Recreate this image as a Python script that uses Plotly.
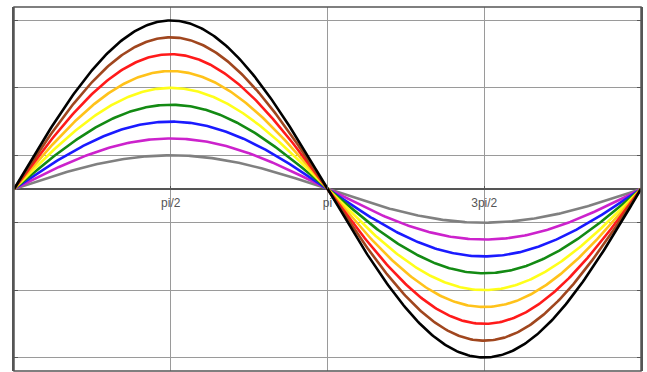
import numpy as np
import plotly.graph_objects as go

amplitudes = [0.2, 0.3, 0.4, 0.5, 0.6, 0.7, 0.8, 0.9, 1.0]
colors = ["#808080", "#cc22cc", "#1a1aff", "#138a13", "#ffff1a", "#ffc21a", "#ff1a1a", "#a0461e", "#000000"]
tick_vals = [np.pi / 2, np.pi, 3 * np.pi / 2]
tick_text = ["pi/2", "pi", "3pi/2"]
y_grid = [-1.0, -0.6, -0.2, 0.2, 0.6, 1.0]

x = np.linspace(0, 2 * np.pi, 400)

fig = go.Figure()
for a, c in zip(amplitudes, colors):
    fig.add_trace(go.Scatter(x=x, y=a * np.sin(x), mode="lines",
                             line=dict(color=c, width=2.6), hoverinfo="skip"))

fig.update_layout(
    width=647, height=372,
    margin=dict(l=14, r=6, t=7, b=1),
    paper_bgcolor="white", plot_bgcolor="white",
    showlegend=False,
    font=dict(family="Liberation Sans, Arial", size=12, color="#555555"),
    xaxis=dict(range=[0, 2 * np.pi], tickvals=tick_vals, ticktext=tick_text,
               showgrid=True, gridcolor="#9a9a9a", gridwidth=1,
               zeroline=False, showline=False,
               anchor="free", position=0.5,
               ticks="inside", ticklen=3, tickcolor="#555555",
               ticklabelstandoff=5,
               tickfont=dict(size=12, color="#555555")),
    yaxis=dict(range=[-1.08, 1.08], tickvals=y_grid, showticklabels=False,
               showgrid=True, gridcolor="#9a9a9a", gridwidth=1,
               zeroline=True, zerolinecolor="#555555", zerolinewidth=1.5,
               showline=True, linecolor="#555555", linewidth=1.5, mirror="ticks",
               ticks="inside", ticklen=4, tickcolor="#555555"),
    shapes=[dict(type="rect", xref="paper", yref="paper", x0=0, y0=0, x1=1, y1=1,
                 line=dict(color="#555555", width=1.5), layer="above")],
)

fig.write_html("out.html")
